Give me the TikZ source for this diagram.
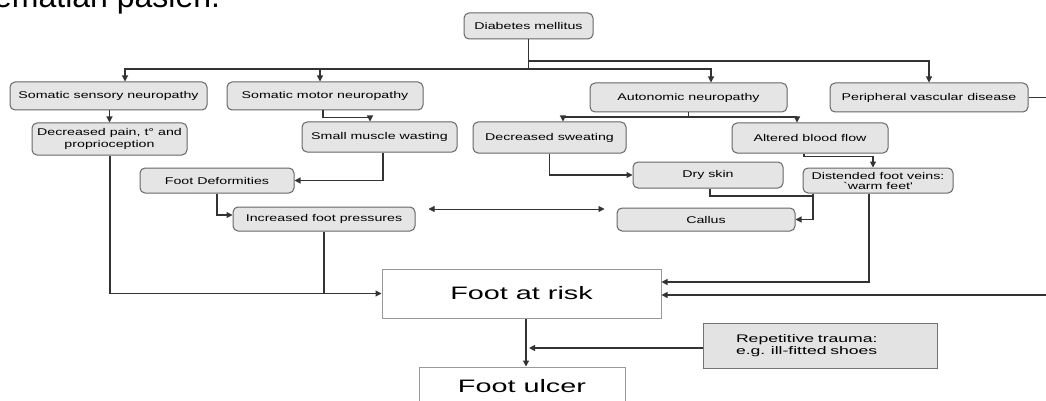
\documentclass[tikz,border=0pt]{standalone}
\usepackage{fontspec}
\setmainfont{Liberation Sans}
\newfontfamily\dfont[FakeStretch=1.45]{Liberation Sans}
\newfontfamily\bfont[FakeStretch=1.6]{Liberation Sans}
\usetikzlibrary{arrows.meta}
\begin{document}
\begin{tikzpicture}[x=1pt,y=-1pt,
  conn/.style={draw=black!80, line width=1.1pt},
  arr/.style={conn, -{Triangle[length=6pt,width=6pt]}},
  darr/.style={draw=black!80, line width=0.8pt, {Triangle[length=6pt,width=6pt]}-{Triangle[length=6pt,width=6pt]}},
  rbox/.style={draw=black!60, fill=black!10, line width=1pt, rounded corners=5pt, inner sep=0pt, align=center, font=\dfont\fontsize{9.8}{11.5}\selectfont},
  sbox/.style={draw=black!40, fill=white, line width=1pt, inner sep=0pt, font=\bfont\fontsize{18}{20}\selectfont},
  gbox/.style={draw=black!55, fill=black!11, line width=1pt, inner sep=0pt, align=left, text width=168pt, font=\bfont\fontsize{11}{12}\selectfont},
]
\useasboundingbox (0,0) rectangle (1046,401);

% heading fragment
\node[anchor=base west, inner sep=0pt, font=\fontsize{32}{32}\selectfont] (head) at (-6,8) {ematian pasien.};

% boxes
\node[rbox, minimum width=129pt, minimum height=26pt] (dm) at (528.5,26) {Diabetes mellitus};
\node[rbox, minimum width=197pt, minimum height=28pt] (ssn) at (108.5,96) {Somatic sensory neuropathy};
\node[rbox, minimum width=196pt, minimum height=28pt] (smn) at (325,96) {Somatic motor neuropathy};
\node[rbox, minimum width=197pt, minimum height=29pt] (an) at (688.5,97.5) {Autonomic neuropathy};
\node[rbox, minimum width=198pt, minimum height=29pt] (pvd) at (929,97.5) {Peripheral vascular disease};
\node[rbox, minimum width=155pt, minimum height=32pt] (dp) at (109.5,139) {Decreased pain, t° and\\proprioception};
\node[rbox, minimum width=155pt, minimum height=30pt] (smw) at (379.5,137) {Small muscle wasting};
\node[rbox, minimum width=153pt, minimum height=31pt] (ds) at (549.5,137.5) {Decreased sweating};
\node[rbox, minimum width=156pt, minimum height=30pt] (abf) at (810,138) {Altered blood flow};
\node[rbox, minimum width=154pt, minimum height=25pt] (fd) at (217,180.5) {Foot Deformities};
\node[rbox, minimum width=150pt, minimum height=26pt] (dry) at (708,175) {Dry skin};
\node[rbox, minimum width=150pt, minimum height=25pt, font=\dfont\fontsize{9.8}{10}\selectfont] (dfv) at (878,180.5) {Distended foot veins:\\`warm feet'};
\node[rbox, minimum width=182pt, minimum height=24pt] (ifp) at (324,219) {Increased foot pressures};
\node[rbox, minimum width=178pt, minimum height=23pt] (cal) at (706,219.5) {Callus};
\node[sbox, minimum width=279pt, minimum height=49pt] (far) at (521.5,293.5) {Foot at risk};
\node[sbox, minimum width=206pt, minimum height=38pt] (fu) at (522,386) {Foot ulcer};
\node[gbox, minimum width=234pt, minimum height=45pt] (rt) at (820,345.5) {Repetitive trauma:\\ e.g. ill-fitted shoes};

% tree from Diabetes mellitus
\coordinate (j1) at (528.5,69);
\coordinate (j2) at (528.5,61);
\draw[conn] (dm.south) -- (j1);
\draw[arr] (j1) -| ([xshift=16.5pt]ssn.north);
\draw[arr] (j1) -| ([xshift=-5pt]smn.north);
\draw[arr] (j1) -| ([xshift=22.5pt]an.north);
\draw[arr] (j2) -| (pvd.north);

% level 1 -> level 2
\draw[arr] (dp.north |- ssn.south) -- (dp.north);
\draw[arr] ([xshift=-2pt]smn.south) -- ++(0,7) -| ([xshift=-9.5pt]smw.north);
\coordinate (j3) at (688.5,117);
\draw[conn] (an.south) -- (j3);
\draw[arr] (j3) -| ([xshift=13.5pt]ds.north);
\draw[arr] (j3) -| ([xshift=-13pt]abf.north);

% level 2 -> level 3
\draw[arr] (ds.south) |- (dry.west);
\draw[arr] ([xshift=-6pt]abf.south) -- ++(0,3) -| ([xshift=-5pt]dfv.north);
\draw[arr] ([xshift=3.5pt]smw.south) |- (fd.east);
\draw[arr] (fd.south) |- ([yshift=4pt]ifp.west);
\coordinate (j4) at (813,196);
\draw[conn] ([xshift=2pt]dry.south) |- (j4);
\draw[arr] ([xshift=-65pt]dfv.south) |- (cal.east);
\draw[darr] ([xshift=13pt,yshift=10pt]ifp.east) -- ([xshift=-12pt,yshift=10.5pt]cal.west);

% into Foot at risk
\draw[arr] ([xshift=0.5pt]dp.south) |- (far.west);
\draw[conn] (ifp.south) -- (ifp.south |- far.west);
\draw[arr] ([xshift=-9pt]dfv.south) |- ([yshift=11.5pt]far.east);
\draw[arr] (pvd.east) -- ++(40,0) |- ([yshift=-1.5pt]far.east);

% to Foot ulcer
\coordinate (fs) at ([xshift=4.5pt]far.south);
\draw[arr] (fs) -- (fs |- fu.north);
\draw[arr, shorten >=3pt] ([yshift=-2.5pt]rt.west) -- ([yshift=-2.5pt]rt.west -| fs);
\end{tikzpicture}
\end{document}
